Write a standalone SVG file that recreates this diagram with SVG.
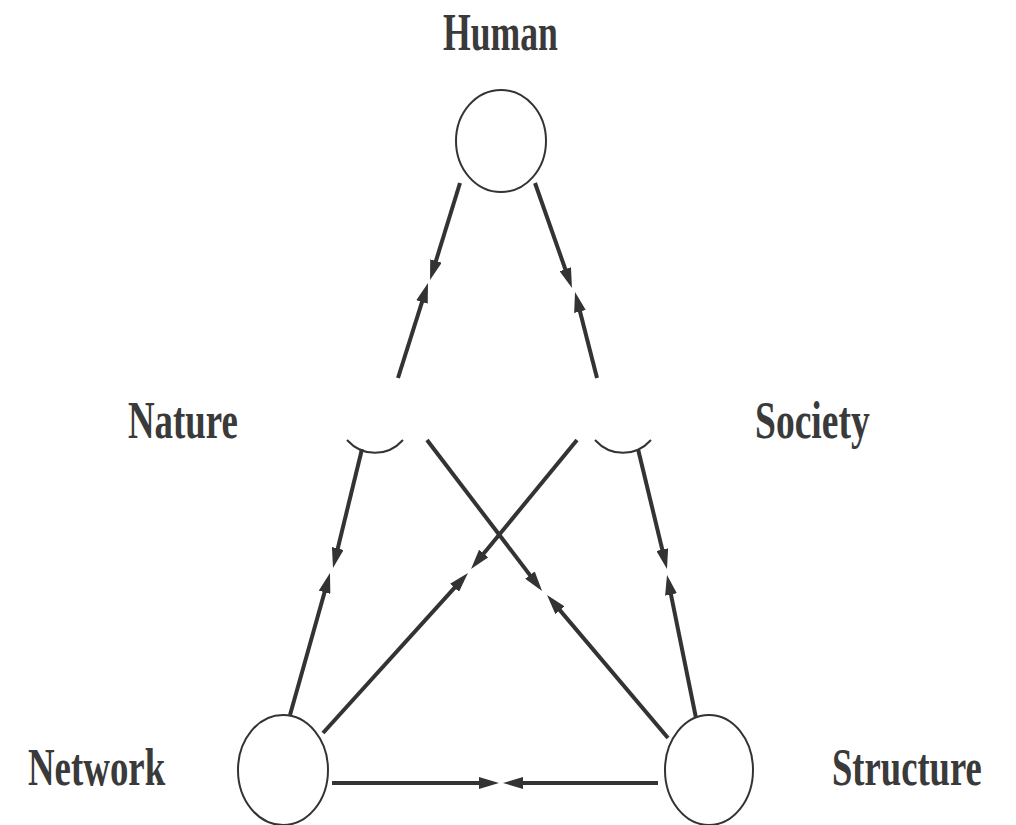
<svg xmlns="http://www.w3.org/2000/svg" width="1016" height="825" viewBox="0 0 1016 825">
<defs>
<style>
.lbl{font-family:"Liberation Serif","DejaVu Serif",serif;font-weight:bold;font-size:52px;fill:#3a3a3a}
.node{fill:none;stroke:#333;stroke-width:2}
.edge{stroke:#333;stroke-width:4;fill:none;marker-end:url(#ah)}
</style>
<marker id="ah" viewBox="0 0 20 12" refX="12" refY="6" markerWidth="20" markerHeight="12" markerUnits="userSpaceOnUse" orient="auto">
<path d="M0,0 L20,6 L0,12 z" fill="#333"/>
</marker>
</defs>
<rect width="1016" height="825" fill="#fff"/>
<g id="human">
<ellipse class="node" cx="501" cy="141" rx="45" ry="51"/>
<text class="lbl" transform="translate(443,50) scale(0.7,1)" textLength="164" lengthAdjust="spacingAndGlyphs">Human</text>
</g>
<g id="nature">
<path class="node" d="M347,440 A40,45 0 0 0 403,440"/>
<text class="lbl" transform="translate(128,438) scale(0.7,1)" textLength="157" lengthAdjust="spacingAndGlyphs">Nature</text>
</g>
<g id="society">
<path class="node" d="M595,440 A40,45 0 0 0 651,440"/>
<text class="lbl" transform="translate(755,438) scale(0.7,1)" textLength="164" lengthAdjust="spacingAndGlyphs">Society</text>
</g>
<g id="network">
<ellipse class="node" cx="283" cy="770" rx="45" ry="55"/>
<text class="lbl" transform="translate(28,785) scale(0.7,1)" textLength="196" lengthAdjust="spacingAndGlyphs">Network</text>
</g>
<g id="structure">
<ellipse class="node" cx="709" cy="770" rx="44" ry="55"/>
<text class="lbl" transform="translate(832,785) scale(0.7,1)" textLength="214" lengthAdjust="spacingAndGlyphs">Structure</text>
</g>
<g id="connectors">
<line class="edge" x1="460" y1="183" x2="432.4" y2="272.4"/>
<line class="edge" x1="398" y1="378" x2="425.6" y2="290.6"/>
<line class="edge" x1="535" y1="183" x2="569.3" y2="280.5"/>
<line class="edge" x1="597" y1="378" x2="577" y2="299.8"/>
<line class="edge" x1="362" y1="449" x2="334.9" y2="560.2"/>
<line class="edge" x1="290" y1="715" x2="327.8" y2="580.7"/>
<line class="edge" x1="427" y1="440" x2="537.2" y2="584.6"/>
<line class="edge" x1="668" y1="738" x2="552.2" y2="601.1"/>
<line class="edge" x1="577" y1="440" x2="476.1" y2="562.8"/>
<line class="edge" x1="323" y1="733" x2="462.6" y2="578.9"/>
<line class="edge" x1="638" y1="449" x2="665.1" y2="561.2"/>
<line class="edge" x1="696" y1="718" x2="668.6" y2="582.8"/>
<line class="edge" x1="332" y1="783" x2="491" y2="783"/>
<line class="edge" x1="658" y1="783" x2="511" y2="783"/>
</g>
</svg>
